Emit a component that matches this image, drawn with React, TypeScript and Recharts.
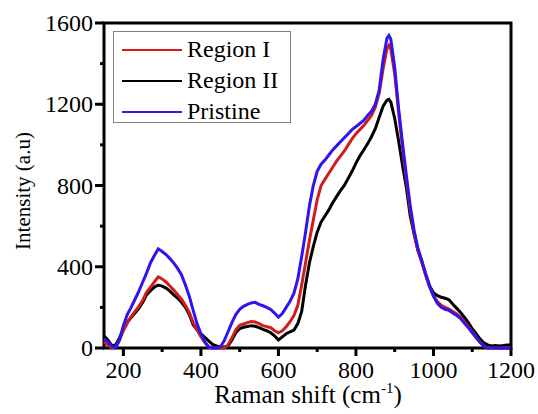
import React from 'react';
import { LineChart, Line, XAxis, YAxis, ReferenceArea, Legend } from 'recharts';

// Raman shift grid (cm-1)
const ramanShift = [
  150, 160, 170, 180, 190, 200, 210, 220, 230, 240,
  250, 260, 270, 280, 290, 300, 310, 320, 330, 340,
  350, 360, 370, 380, 390, 400, 410, 420, 430, 440,
  450, 460, 470, 480, 490, 500, 510, 520, 530, 540,
  550, 560, 570, 580, 590, 600, 610, 620, 630, 640,
  650, 660, 670, 680, 690, 700, 710, 720, 730, 740,
  750, 760, 770, 780, 790, 800, 810, 820, 830, 840,
  850, 860, 870, 880, 885, 890, 900, 910, 920, 930,
  940, 950, 960, 970, 980, 990, 1000, 1010, 1020, 1030,
  1040, 1050, 1060, 1070, 1080, 1090, 1100, 1110, 1120, 1130,
  1140, 1150, 1160, 1170, 1180, 1190, 1200,
];

const regionI = [
  30, 15, 0, 5, 40, 85, 122, 155, 180, 205,
  235, 275, 300, 325, 350, 340, 325, 305, 285, 262,
  240, 210, 175, 125, 90, 55, 28, 5, 0, 0,
  0, 0, 15, 50, 90, 112, 118, 125, 130, 128,
  120, 110, 105, 100, 85, 75, 85, 105, 130, 160,
  210, 310, 420, 530, 630, 730, 800, 830, 860, 890,
  920, 945, 970, 1000, 1030, 1055, 1075, 1095, 1120, 1145,
  1185, 1255, 1375, 1475, 1490, 1470, 1350, 1160, 990, 830,
  680, 565, 480, 420, 358, 300, 258, 228, 210, 200,
  192, 180, 167, 152, 130, 106, 80, 55, 30, 10,
  0, 0, 0, 0, 0, 0, 0,
];

const regionII = [
  60, 40, 12, 15, 50, 95, 128, 150, 172, 195,
  225, 262, 282, 300, 310, 305, 295, 280, 262, 245,
  225, 200, 165, 115, 90, 70, 52, 35, 18, 10,
  5, 5, 10, 40, 75, 95, 102, 106, 110, 107,
  100, 92, 85, 75, 60, 40, 55, 70, 80, 88,
  120, 180, 310, 420, 500, 570, 620, 650, 680, 715,
  745, 775, 800, 835, 870, 910, 945, 975, 1005, 1040,
  1080, 1136, 1190, 1220, 1224, 1210, 1130, 1020, 900, 790,
  650, 560, 480, 425, 360, 305, 272, 258, 250, 245,
  237, 215, 195, 175, 150, 125, 95, 70, 45, 25,
  15, 10, 12, 10, 12, 15, 15,
];

const pristine = [
  45, 30, 8, 0, 40, 110, 165, 200, 240, 280,
  325, 370, 420, 455, 488, 475, 460, 440, 418, 392,
  360, 310, 255, 185, 120, 70, 30, 5, 0, 0,
  5, 35, 80, 125, 165, 190, 205, 215, 222, 225,
  215, 208, 200, 190, 172, 152, 170, 200, 230, 270,
  340, 450, 570, 700, 800, 870, 905, 925, 950, 975,
  995, 1015, 1035, 1055, 1075, 1090, 1105, 1120, 1145, 1165,
  1200, 1270, 1420, 1525, 1539, 1520, 1380, 1180, 1010, 850,
  700, 580, 490, 430, 365, 305, 255, 220, 200, 190,
  185, 172, 160, 145, 122, 100, 75, 52, 28, 10,
  0, 0, 0, 0, 0, 0, 0,
];

const xTicks = [200, 300, 400, 500, 600, 700, 800, 900, 1000, 1100, 1200];
const yTicks = [0, 200, 400, 600, 800, 1000, 1200, 1400, 1600];

const legendItems = [
  { key: 'regionI', label: 'Region I', color: '#d21c1c' },
  { key: 'regionII', label: 'Region II', color: '#000000' },
  { key: 'pristine', label: 'Pristine', color: '#2d14f0' },
];

const data = ramanShift.map((x, i) => ({
  x,
  regionI: regionI[i],
  regionII: regionII[i],
  pristine: pristine[i],
}));

const FONT = "'Liberation Serif', 'DejaVu Serif', 'Noto Serif', 'Times New Roman', Times, serif";

const XTick = (props: any) => {
  const { x, y, payload } = props;
  const major = payload.value % 200 === 0;
  return (
    <g>
      <line x1={x} x2={x} y1={y} y2={y + (major ? 8 : 4)} stroke="#000" strokeWidth={3} />
      {major && (
        <text x={x} y={y + 30} textAnchor="middle" fill="#000" style={{ fontFamily: FONT, fontSize: 24 }}>
          {payload.value}
        </text>
      )}
    </g>
  );
};

const YTick = (props: any) => {
  const { x, y, payload } = props;
  const major = payload.value % 400 === 0;
  return (
    <g>
      <line x1={x - (major ? 9 : 4)} x2={x} y1={y} y2={y} stroke="#000" strokeWidth={3} />
      {major && (
        <text x={x - 11} y={y + 8} textAnchor="end" fill="#000" style={{ fontFamily: FONT, fontSize: 24 }}>
          {payload.value}
        </text>
      )}
    </g>
  );
};

const XTitle = () => (
  <text x={308} y={403} textAnchor="middle" fill="#000" style={{ fontFamily: FONT, fontSize: 25 }}>
    Raman shift (cm
    <tspan dy={-10} style={{ fontSize: 15 }}>-1</tspan>
    <tspan dy={10}>)</tspan>
  </text>
);

const YTitle = () => (
  <text
    transform="translate(30,191) rotate(-90)"
    textAnchor="middle"
    fill="#000"
    style={{ fontFamily: FONT, fontSize: 21 }}
  >
    Intensity (a.u)
  </text>
);

const LegendBox = () => (
  <div
    style={{
      border: '1px solid #808080',
      background: '#fff',
      width: 178,
      height: 92,
      paddingTop: 2,
      boxSizing: 'border-box',
      fontFamily: FONT,
      fontSize: 24,
      color: '#000',
    }}
  >
    {legendItems.map((item) => (
      <div key={item.key} style={{ display: 'flex', alignItems: 'center', height: 31 }}>
        <span
          style={{ display: 'inline-block', width: 60, height: 2, background: item.color, marginLeft: 8, marginRight: 5 }}
        />
        <span style={{ lineHeight: '31px' }}>{item.label}</span>
      </div>
    ))}
  </div>
);

export default function App() {
  return (
    <div style={{ position: 'absolute', left: 0, top: 0, background: '#fff', fontFamily: FONT }}>
      <LineChart width={538} height={414} data={data} margin={{ top: 23, right: 27, bottom: 0, left: 0 }}>
        <XAxis
          dataKey="x"
          type="number"
          domain={[150, 1200]}
          ticks={xTicks}
          tick={<XTick />}
          tickLine={false}
          axisLine={false}
          tickSize={0}
          tickMargin={0}
          height={66}
          interval={0}
          label={<XTitle />}
        />
        <YAxis
          type="number"
          domain={[0, 1600]}
          ticks={yTicks}
          tick={<YTick />}
          tickLine={false}
          axisLine={false}
          tickSize={0}
          tickMargin={0}
          width={104}
          interval={0}
          label={<YTitle />}
        />
        <Legend
          layout="vertical"
          align="center"
          verticalAlign="middle"
          content={() => <LegendBox />}
          wrapperStyle={{ position: 'absolute', left: 113, top: 31, width: 'auto', height: 'auto' }}
        />
        <Line dataKey="regionII" stroke="#000000" strokeWidth={3} dot={false} isAnimationActive={false} />
        <Line dataKey="regionI" stroke="#d21c1c" strokeWidth={3} dot={false} isAnimationActive={false} />
        <Line dataKey="pristine" stroke="#2d14f0" strokeWidth={3} dot={false} isAnimationActive={false} />
        <ReferenceArea x1={150} x2={1200} y1={0} y2={1600} fill="none" stroke="#000" strokeWidth={3} />
      </LineChart>
    </div>
  );
}
